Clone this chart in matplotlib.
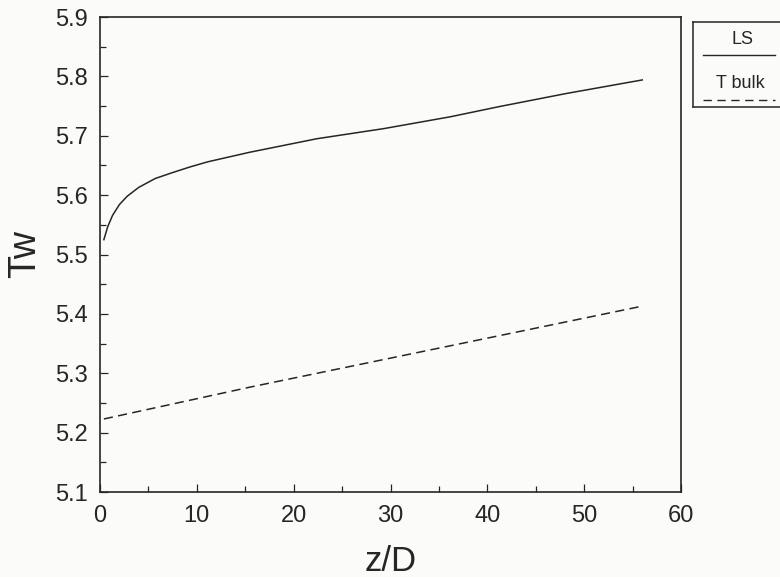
import matplotlib
matplotlib.use("Agg")
import matplotlib.pyplot as plt
from matplotlib.ticker import MultipleLocator

plt.rcParams['font.family'] = ['Liberation Sans', 'DejaVu Sans']

# ---- data ----
ls_z = [0.4, 0.8, 1.3, 2.0, 2.8, 4.0, 5.7, 7.5, 9.2, 11.1, 15.4, 22.4, 29.3, 36.2, 41.2, 48.1, 56.0]
ls_tw = [5.525, 5.547, 5.566, 5.584, 5.598, 5.613, 5.628, 5.638, 5.647, 5.656, 5.672,
         5.695, 5.712, 5.732, 5.749, 5.771, 5.794]
bulk_z = [0.4, 15.6, 56.0]
bulk_t = [5.223, 5.277, 5.413]

x_ticks = [0, 10, 20, 30, 40, 50, 60]
y_ticks = [5.1, 5.2, 5.3, 5.4, 5.5, 5.6, 5.7, 5.8, 5.9]
legend_labels = ["LS", "T bulk"]

W, H = 780, 577
fig = plt.figure(figsize=(W / 100, H / 100), dpi=100)
bg = '#fbfbf9'
fig.patch.set_facecolor(bg)

ink = '#262626'
ax = fig.add_axes([100 / W, 1 - 492 / H, 581 / W, 475 / H])
ax.set_facecolor(bg)
ax.plot(ls_z, ls_tw, color=ink, lw=1.1)
ax.plot(bulk_z, bulk_t, color=ink, lw=1.1, dashes=(6, 3.5))

ax.set_xlim(0, 60)
ax.set_ylim(5.1, 5.9)
ax.set_xticks(x_ticks)
ax.set_yticks(y_ticks)
ax.set_yticklabels([f"{v:.1f}" for v in y_ticks])
ax.xaxis.set_minor_locator(MultipleLocator(5))
ax.yaxis.set_minor_locator(MultipleLocator(0.05))
ax.tick_params(which='both', direction='in', top=False, right=False,
               labelsize=17, colors=ink, width=0.9)
ax.tick_params(which='major', length=6, pad=9)
ax.tick_params(which='minor', length=4)
for s in ax.spines.values():
    s.set_linewidth(1.2)
    s.set_color(ink)
ax.set_xlabel("z/D", fontsize=25, color=ink, labelpad=13)
ax.set_ylabel("Tw", fontsize=27, color=ink, labelpad=8)

# ---- legend box (partly cut by the right edge) ----
lg = fig.add_axes([693 / W, 1 - 107 / H, 130 / W, 85 / H])
lg.set_xlim(693, 823)
lg.set_ylim(107, 22)
lg.set_xticks([])
lg.set_yticks([])
lg.set_facecolor(bg)
for s in lg.spines.values():
    s.set_linewidth(1.1)
    s.set_color(ink)
lg.text(743, 39, legend_labels[0], ha='center', va='center', fontsize=13, color=ink)
lg.plot([703, 775], [55, 55], color=ink, lw=1.0)
lg.text(740, 83, legend_labels[1], ha='center', va='center', fontsize=13, color=ink)
lg.plot([703, 775], [100, 100], color=ink, lw=1.0, dashes=(6, 4))

fig.savefig("out.png", dpi=100, facecolor=fig.get_facecolor())
